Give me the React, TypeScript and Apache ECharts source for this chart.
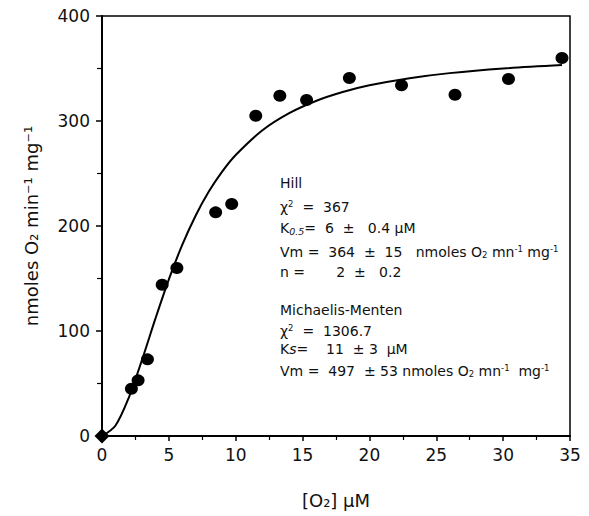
import React, { useEffect, useRef } from "react";
import * as echarts from "echarts";

// Observed data
const xObs = [0, 2.2, 2.7, 3.4, 4.5, 5.6, 8.5, 9.7, 11.5, 13.3, 15.3, 18.5, 22.4, 26.4, 30.4, 34.4];
const yObs = [0, 45, 53, 73, 144, 160, 213, 221, 305, 324, 320, 341, 334, 325, 340, 360];

// Fitted curve
const xFit = [0, 1, 2, 3, 4, 5, 6, 7, 8, 9, 10, 12, 14, 16, 18, 20, 23, 26, 30, 34.4];
const yFit = [0, 9.8, 36.4, 72.8, 112, 149.2, 182, 209.8, 233, 252, 267.6, 291.2, 307.5, 319.1, 327.6, 334, 340.8, 345.6, 350, 353.3];

const xTicks = [0, 5, 10, 15, 20, 25, 30, 35];
const yTicks = [0, 100, 200, 300, 400];

const FONT = "DejaVu Sans";
const INK = "#111";

export default function App() {
  const ref = useRef<HTMLDivElement>(null);
  useEffect(() => {
    if (!ref.current) return;
    const chart = echarts.init(ref.current, null, { renderer: "svg" });
    const rich = {
      sup: { fontSize: 8.5, fontFamily: FONT, color: INK, padding: [0, 0, 7, 0] },
      sub: { fontSize: 8.5, fontFamily: FONT, color: INK, padding: [6, 0, 0, 0] },
      subi: { fontSize: 9.5, fontStyle: "italic", fontFamily: FONT, color: INK, padding: [7, 0, 0, 0] },
      it: { fontSize: 14, fontStyle: "italic", fontFamily: FONT, color: INK },
    };
    const lines: [string, number][] = [
      ["Hill", 185],
      ["χ{sup|2}  =  367", 208],
      ["K{subi|0.5}=  6  ±   0.4 μM", 230],
      ["Vm =  364  ±  15   nmoles O{sub|2} mn{sup|-1} mg{sup|-1}", 253],
      ["n =       2  ±   0.2", 274],
      ["Michaelis-Menten", 312],
      ["χ{sup|2}  =  1306.7", 332],
      ["K{it|s}=    11  ± 3  μM", 351],
      ["Vm =  497  ± 53 nmoles O{sub|2} mn{sup|-1}  mg{sup|-1}", 372],
    ];
    const graphic = lines.map(([t, y]) => ({
      type: "text",
      left: 280,
      top: y - 9,
      style: { text: t, fontSize: 14, fontFamily: FONT, fill: INK, rich },
    }));
    chart.setOption({
      animation: false,
      grid: {
        left: 102,
        top: 16,
        right: 19,
        bottom: 80,
        show: true,
        borderColor: "#000",
        borderWidth: 1.5,
        backgroundColor: "transparent",
      },
      xAxis: {
        type: "value",
        min: xTicks[0],
        max: xTicks[xTicks.length - 1],
        interval: 5,
        name: "[O₂] μM",
        nameLocation: "middle",
        nameGap: 55,
        nameTextStyle: { fontFamily: FONT, fontSize: 18, color: INK },
        axisLine: { show: true, onZero: false, lineStyle: { color: "#000", width: 2 } },
        axisTick: { show: true, inside: false, length: 5, lineStyle: { color: "#000", width: 1.5 } },
        minorTick: { show: true, splitNumber: 2, length: 4, lineStyle: { color: "#000", width: 1.2 } },
        axisLabel: { fontFamily: FONT, fontSize: 17, color: INK, margin: 10 },
        splitLine: { show: false },
      },
      yAxis: {
        type: "value",
        min: yTicks[0],
        max: yTicks[yTicks.length - 1],
        interval: 100,
        name: "nmoles O₂ min⁻¹ mg⁻¹",
        nameLocation: "middle",
        nameGap: 62,
        nameTextStyle: { fontFamily: FONT, fontSize: 18, color: INK },
        axisLine: { show: true, onZero: false, lineStyle: { color: "#000", width: 2 } },
        axisTick: { show: true, inside: false, length: 6, lineStyle: { color: "#000", width: 1.5 } },
        minorTick: { show: true, splitNumber: 2, length: 5, lineStyle: { color: "#000", width: 1.2 } },
        axisLabel: { fontFamily: FONT, fontSize: 17, color: INK, margin: 12 },
        splitLine: { show: false },
      },
      graphic,
      series: [
        {
          type: "line",
          data: xFit.map((x, i) => [x, yFit[i]]),
          smooth: 0.3,
          showSymbol: false,
          lineStyle: { color: "#000", width: 2 },
          z: 2,
        },
        {
          type: "scatter",
          data: xObs.map((x, i) => ({
            value: [x, yObs[i]],
            symbol: i === 0 ? "diamond" : "circle",
            symbolSize: i === 0 ? [15, 15] : [13, 12],
          })),
          itemStyle: { color: "#000", opacity: 1 },
          z: 3,
        },
      ],
    });
    return () => chart.dispose();
  }, []);
  return (
    <div
      ref={ref}
      style={{ position: "fixed", left: 0, top: 0, width: 589, height: 516, background: "#fff" }}
    />
  );
}
